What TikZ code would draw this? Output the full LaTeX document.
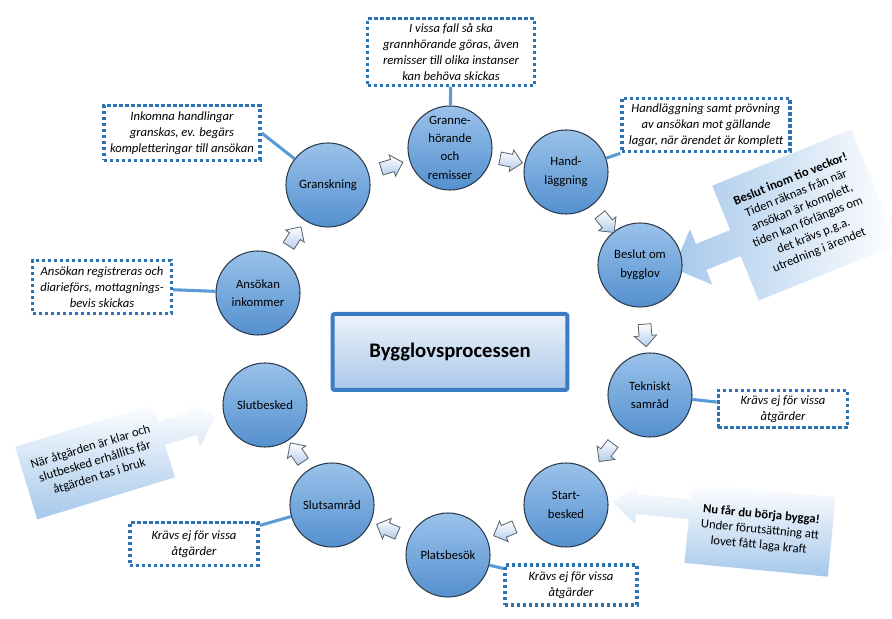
\documentclass[tikz,border=0pt]{standalone}
\usepackage{fontspec}
\setmainfont{Carlito}
\usetikzlibrary{shapes.arrows,positioning}

\definecolor{stagetop}{HTML}{9AC2EA}
\definecolor{stagebot}{HTML}{5490CF}
\definecolor{stageline}{HTML}{2C3B4C}
\definecolor{noteblue}{HTML}{2E74B5}
\definecolor{linkblue}{HTML}{5B9BD5}
\definecolor{arrowfill}{HTML}{B3CDEA}
\definecolor{arrowline}{HTML}{56606B}
\definecolor{callblue}{HTML}{A6C8EB}
\definecolor{titletop}{HTML}{EDF3FB}
\definecolor{titlebot}{HTML}{A9C7E9}
\definecolor{titleline}{HTML}{3B7CC6}

\begin{document}
\begin{tikzpicture}[x=0.75pt,y=0.75pt,
  stage/.style={circle,minimum size=63pt,inner sep=0pt,draw=stageline,line width=0.8pt,
    top color=stagetop,bottom color=stagebot,align=center,
    font=\fontsize{9.5}{14}\selectfont},
  note/.style={draw=noteblue,line width=2.5pt,dash pattern=on 2.5pt off 2pt,fill=white,
    align=center,inner sep=1pt,font=\fontsize{9.5}{11.8}\selectfont\itshape},
  link/.style={draw=linkblue,line width=2.3pt},
  flowarrow/.style={single arrow,draw=arrowline,line width=0.6pt,top color=white,
    bottom color=arrowfill,minimum height=17pt,inner sep=4.5pt,
    single arrow head extend=3.5pt,sloped,allow upside down},
  callouttext/.style={align=center,transform shape,font=\fontsize{9.5}{11.5}\selectfont}]

  \useasboundingbox (0,0) rectangle (892,618);

  % callout arrows
  \begin{scope}[shift={(805,403)},rotate=22]
    \shade[left color=callblue,right color=white]
      (-75,62) -- (75,62) -- (75,-62) -- (-75,-62) -- (-75,-14) -- (-112,-14)
      -- (-112,-30) -- (-142,0) -- (-112,30) -- (-112,14) -- (-75,14) -- cycle;
    \node[callouttext] (tiocall) at (0,0) {\textbf{Beslut inom tio veckor!}\\Tiden räknas från när\\ansökan är komplett,\\tiden kan förlängas om\\det krävs p.g.a.\\utredning i ärendet};
  \end{scope}
  \begin{scope}[shift={(95,156)},rotate=17]
    \shade[top color=white,bottom color=callblue]
      (-72,38) -- (72,38) -- (72,20) -- (105,20) -- (105,32) -- (128,8)
      -- (105,-16) -- (105,-4) -- (72,-4) -- (72,-38) -- (-72,-38) -- cycle;
    \node[callouttext] (brukcall) at (0,0) {När åtgärden är klar och\\slutbesked erhållits får\\åtgärden tas i bruk};
  \end{scope}
  \begin{scope}[shift={(760,88)},rotate=-5.5]
    \shade[top color=white,bottom color=callblue]
      (-72,40) -- (72,40) -- (72,-40) -- (-72,-40) -- (-72,4) -- (-125,4)
      -- (-125,-6) -- (-150,14) -- (-125,34) -- (-125,24) -- (-72,24) -- cycle;
    \node[callouttext] (byggcall) at (0,0) {\textbf{Nu får du börja bygga!}\\Under förutsättning att\\lovet fått laga kraft};
  \end{scope}

  % stages
  \node[stage] (ansokan) at (258,325) {Ansökan\\inkommer};
  \node[stage] (gransk) at (328,433) {Granskning};
  \node[stage] (granne) at (450,470) {Granne-\\[-1pt]\fontsize{9.5}{10.5}\selectfont hörande\\och\\remisser};
  \node[stage] (handl) at (566,446) {Hand-\\läggning};
  \node[stage] (beslut) at (640,353) {Beslut om\\bygglov};
  \node[stage] (teknisk) at (650,223) {Tekniskt\\samråd};
  \node[stage] (start) at (566,113) {Start-\\besked};
  \node[stage] (plats) at (448,63) {Platsbesök};
  \node[stage] (slutsam) at (332,113) {Slutsamråd};
  \node[stage] (slutbesk) at (265,213) {Slutbesked};

  \node[draw=titleline,line width=3pt,top color=titletop,bottom color=titlebot,
    minimum width=176pt,minimum height=57pt,rounded corners=1.5pt,
    font=\fontsize{15.5}{18}\selectfont\bfseries] (title) at (450,266) {Bygglovsprocessen};

  \path (ansokan) -- node[flowarrow] (f1) {} (gransk);
  \path (gransk) -- node[flowarrow] (f2) {} (granne);
  \path (granne) -- node[flowarrow] (f3) {} (handl);
  \path (handl) -- node[flowarrow,pos=0.6] (f4) {} (beslut);
  \path (beslut) -- node[flowarrow,pos=0.55] (f5) {} (teknisk);
  \path (teknisk) -- node[flowarrow] (f6) {} (start);
  \path (start) -- node[flowarrow] (f7) {} (plats);
  \path (plats) -- node[flowarrow] (f8) {} (slutsam);
  \path (slutsam) -- node[flowarrow] (f9) {} (slutbesk);

  % notes
  \node[note,minimum width=125pt,minimum height=50pt] (grannenote) at (451,566) {I vissa fall så ska\\grannhörande göras, även\\remisser till olika instanser\\kan behöva skickas};
  \node[note,minimum width=117pt,minimum height=41pt] (inknote) at (182,485) {Inkomna handlingar\\granskas, ev. begärs\\kompletteringar till ansökan};
  \node[note,minimum width=126pt,minimum height=40pt] (handlnote) at (706,493) {Handläggning samt prövning\\av ansökan mot gällande\\lagar, när ärendet är komplett};
  \node[note,minimum width=104pt,minimum height=40pt] (ansnote) at (102,331) {Ansökan registreras och\\diarieförs, mottagnings-\\bevis skickas};
  \node[note,minimum width=97pt,minimum height=28pt] (teknote) at (783,209) {Krävs ej för vissa\\åtgärder};
  \node[note,minimum width=96pt,minimum height=32pt] (slutnote) at (194,74) {Krävs ej för vissa\\åtgärder};
  \node[note,minimum width=99pt,minimum height=30pt] (platsnote) at (571,33) {Krävs ej för vissa\\åtgärder};

  \draw[link] (grannenote) -- (granne);
  \draw[link] (inknote.east) -- (gransk);
  \draw[link] (handlnote.south west) -- (handl);
  \draw[link] (ansnote) -- (ansokan);
  \draw[link] (teknisk) -- (teknote);
  \draw[link] (slutnote) -- (slutsam);
  \draw[link] (plats) -- (platsnote);

\end{tikzpicture}
\end{document}
